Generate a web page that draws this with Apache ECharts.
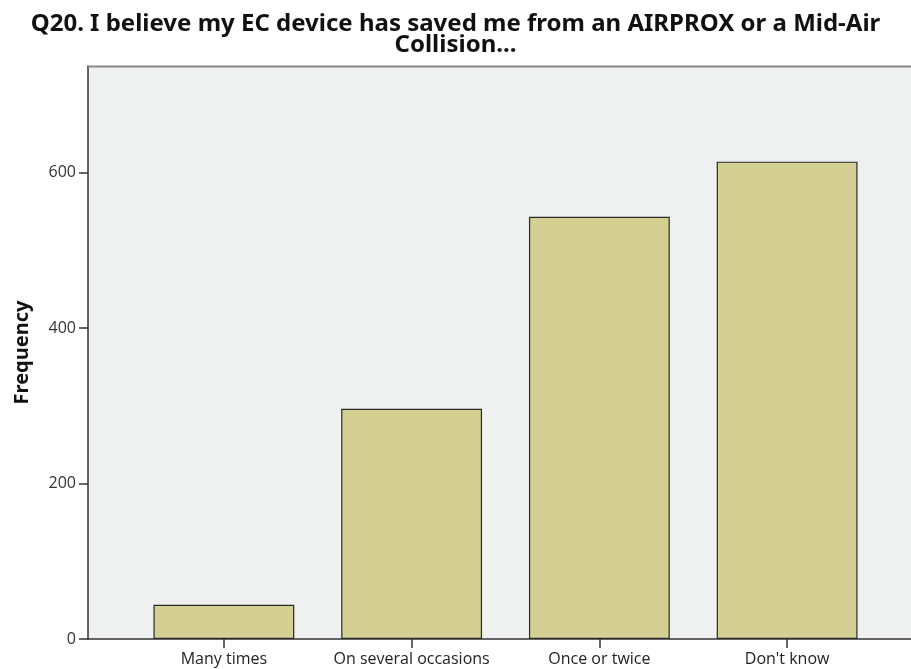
<!DOCTYPE html>
<html><head><meta charset="utf-8">
<script src="https://cdn.jsdelivr.net/npm/echarts@6/dist/echarts.min.js"></script>
<style>html,body{margin:0;padding:0;background:#fff}#c{width:911px;height:669px}</style>
</head><body><div id="c"></div>
<script>
const categories = ["Many times", "On several occasions", "Once or twice", "Don't know"];
const frequency = [44, 296, 543, 614];
const yTicks = [0, 200, 400, 600];
const titleText = "Q20. I believe my EC device has saved me from an AIRPROX or a Mid-Air\nCollision...";
const yName = "Frequency";

const chart = echarts.init(document.getElementById('c'), null, {renderer: 'canvas'});
const yMax = 737;
chart.setOption({
  animation: false,
  backgroundColor: '#ffffff',
  title: {
    text: titleText, left: 'center', top: 9,
    textStyle: {fontFamily: '"Noto Sans", sans-serif', fontWeight: 'bold', fontSize: 24, lineHeight: 21, color: '#111'}
  },
  grid: [
    {left: 88, right: 0, top: 66, bottom: 30, show: true, backgroundColor: '#eff0f0', borderWidth: 0, containLabel: false, outerBoundsMode: 'none'},
    {left: 130, right: 30, top: 66, bottom: 30, containLabel: false, outerBoundsMode: 'none'}
  ],
  xAxis: [
    {gridIndex: 0, type: 'value', min: 0, max: 1, axisLine: {show: true, onZero: false, lineStyle: {color: '#333', width: 1.5}},
     axisTick: {show: false}, axisLabel: {show: false}, splitLine: {show: false}},
    {gridIndex: 1, type: 'category', data: categories, axisLine: {show: false},
     axisTick: {show: true, alignWithLabel: true, length: 9, lineStyle: {color: '#333', width: 1.5}},
     axisLabel: {color: '#222', fontSize: 16, margin: 12, interval: 0, fontFamily: '"Open Sans", sans-serif'}}
  ],
  yAxis: [
    {gridIndex: 0, type: 'value', min: 0, max: yMax, interval: 200,
     name: yName, nameLocation: 'middle', nameGap: 56, nameRotate: 90,
     nameTextStyle: {fontWeight: 'bold', fontSize: 20, color: '#111', fontFamily: '"Noto Sans", sans-serif'},
     axisLine: {show: true, lineStyle: {color: '#333', width: 1.5}},
     axisTick: {show: true, length: 9, customValues: yTicks, lineStyle: {color: '#333', width: 1.5}},
     axisLabel: {color: '#333', fontSize: 16, margin: 12, customValues: yTicks, fontFamily: '"Open Sans", sans-serif'},
     splitLine: {show: false}},
    {gridIndex: 1, type: 'value', min: 0, max: yMax, show: false}
  ],
  graphic: [
    {type: 'line', shape: {x1: 88, y1: 66.5, x2: 911, y2: 66.5}, style: {stroke: '#888', lineWidth: 2}, z: 10}
  ],
  series: [{
    type: 'bar', xAxisIndex: 1, yAxisIndex: 1, data: frequency,
    barCategoryGap: '25%',
    itemStyle: {color: '#d4cf93', borderColor: '#2a2a2a', borderWidth: 1.2}
  }]
});
</script></body></html>
